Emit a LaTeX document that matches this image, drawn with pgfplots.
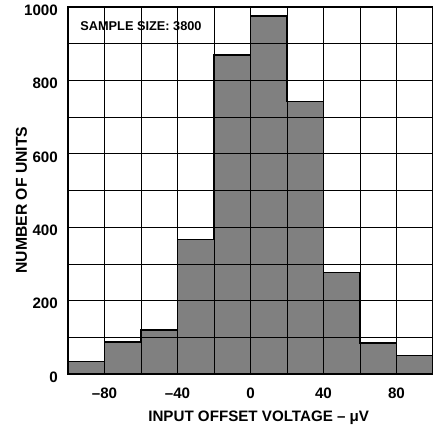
\documentclass[border=0pt]{standalone}
\usepackage{fontspec}
\setmainfont{Liberation Sans}
\usepackage{pgfplots}
\pgfplotsset{compat=1.18}
\begin{document}
\begin{tikzpicture}[font=\bfseries]
\begin{axis}[
    scale only axis,
    width=365bp, height=367bp,
    xmin=-100, xmax=100, ymin=0, ymax=1000,
    xtick={-80,-40,0,40,80},
    xticklabels={–80,–40,0,40,80},
    ytick={0,200,...,1000},
    minor xtick={-60,-20,20,60},
    minor ytick={100,300,...,900},
    grid=both,
    major grid style={black, line width=0.6pt},
    minor grid style={black, line width=0.6pt},
    major tick length=0pt, minor tick length=0pt,
    axis line style={line width=1.6pt},
    axis on top,
    /pgf/number format/assume math mode=true,
    /pgf/number format/1000 sep={},
    ticklabel style={font=\fontsize{15.2}{16}\selectfont\bfseries, inner sep=0pt},
    xticklabel style={anchor=center, yshift=-19bp},
    yticklabel style={anchor=east, xshift=-10bp, yshift=-3bp},
    xlabel={INPUT OFFSET VOLTAGE – μV},
    ylabel={NUMBER OF UNITS},
    xlabel style={font=\fontsize{15.2}{16}\selectfont\bfseries,
        at={(axis description cs:0.5225,-0.129)}, anchor=base},
    ylabel style={font=\fontsize{15.8}{16}\selectfont\bfseries,
        at={(axis description cs:-0.113,0.474)}, anchor=base},
]
\addplot[const plot, fill=gray, draw=none] coordinates {
    (-100,34) (-80,87) (-60,120) (-40,366) (-20,870)
    (0,976) (20,742) (40,277) (60,84) (80,50) (100,50)
} \closedcycle;
\addplot[const plot, black, line width=1.6pt] coordinates {
    (-100,34) (-80,87) (-60,120) (-40,366) (-20,870)
    (0,976) (20,742) (40,277) (60,84) (80,50) (100,50)
};
\node[fill=white, inner sep=0.5pt, font=\fontsize{12.8}{13}\selectfont\bfseries]
    at (axis cs:-60,949) {SAMPLE SIZE: 3800};
\end{axis}
\pgfresetboundingbox
\path[use as bounding box] (current axis.south west) ++(-68bp,-55bp)
    rectangle ([yshift=7bp]current axis.north east);
\end{tikzpicture}
\end{document}
